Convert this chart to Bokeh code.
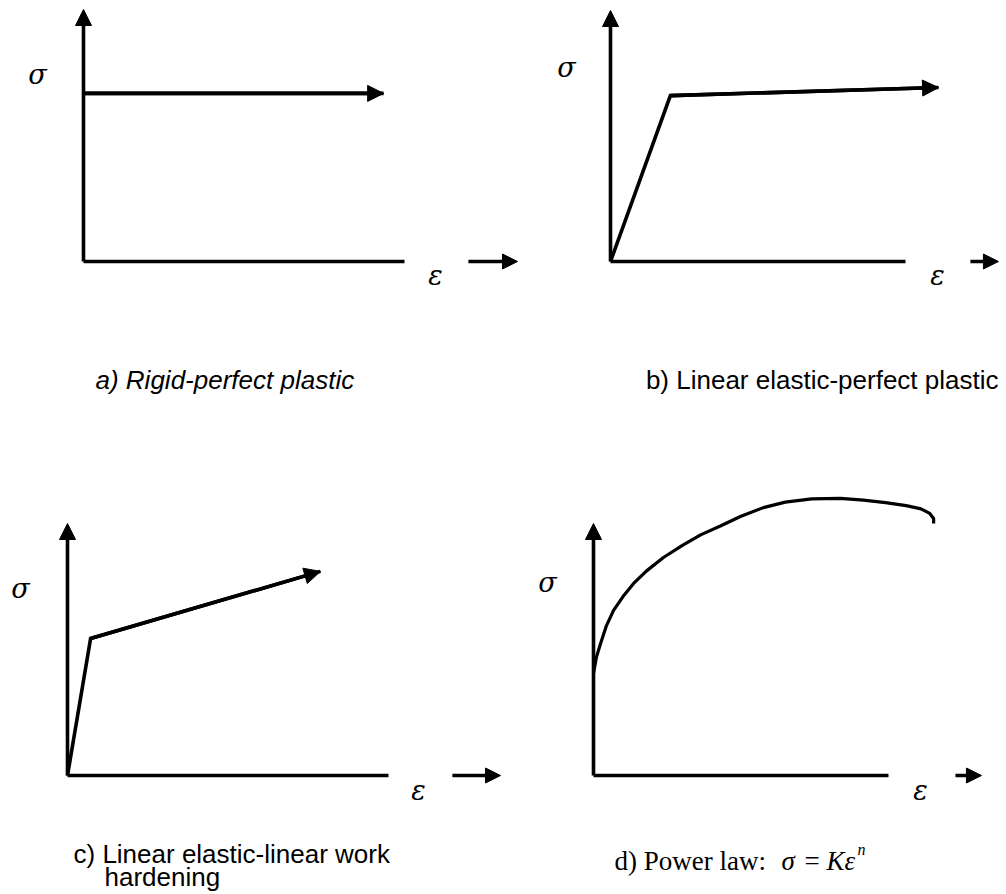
from bokeh.plotting import figure
from bokeh.layouts import gridplot
from bokeh.models import Range1d, Arrow, NormalHead
from bokeh.core.properties import value
from bokeh.embed import file_html
from bokeh.resources import INLINE

# ---- stress-strain models (normalised: axis length = 1) ----
# a) rigid-perfect plastic
rigid_strain = [0.0, 0.935]
rigid_stress = [0.667, 0.667]
# b) linear elastic-perfect plastic
elpp_strain = [0.0, 0.203, 1.112]
elpp_stress = [0.0, 0.661, 0.693]
# c) linear elastic-linear work hardening
ellh_strain = [0.0, 0.072, 0.788]
ellh_stress = [0.0, 0.544, 0.810]
# d) power law
power_strain = [0.0, 0.010, 0.024, 0.044, 0.068, 0.100, 0.136, 0.180, 0.237,
                0.300, 0.363, 0.430, 0.498, 0.576, 0.650, 0.740, 0.837, 0.915,
                0.990, 1.060, 1.110, 1.140, 1.153, 1.153]
power_stress = [0.405, 0.470, 0.524, 0.595, 0.655, 0.710, 0.762, 0.812, 0.865,
                0.912, 0.955, 0.990, 1.028, 1.063, 1.085, 1.098, 1.100, 1.093,
                1.083, 1.071, 1.058, 1.040, 1.020, 1.000]

captions = ["a) Rigid-perfect plastic",
            "b) Linear elastic-perfect plastic",
            "c) Linear elastic-linear work",
            "hardening",
            "d) Power law:"]

INK = "black"
LW = 3.6
SERIF = value("Liberation Serif")
SYMBOL = value("DejaVu Serif")
SANS = value("Liberation Sans")


def make_panel(left, top, w, h, origin, unit):
    ox, oy = origin
    ux, uy = unit
    p = figure(width=w, height=h,
               x_range=Range1d((left - ox) / ux, (left + w - ox) / ux),
               y_range=Range1d((oy - top - h) / uy, (oy - top) / uy),
               x_axis_location=None, y_axis_location=None,
               output_backend="svg", toolbar_location=None, min_border=0)
    p.grid.visible = False
    p.outline_line_color = None
    p.background_fill_color = "white"
    p.border_fill_color = "white"

    def at(px, py):
        return (px - ox) / ux, (oy - py) / uy

    # stress axis with arrow head, strain axis plain
    p.add_layout(Arrow(x_start=0, y_start=0, x_end=0, y_end=1,
                       line_width=LW, line_color=INK,
                       end=NormalHead(size=16, fill_color=INK, line_color=INK, line_width=1)))
    p.line([0, 1], [0, 0], line_width=LW, line_color=INK)
    return p, at


def head_arrow(p, xs, ys):
    p.add_layout(Arrow(x_start=xs[-2], y_start=ys[-2], x_end=xs[-1], y_end=ys[-1],
                       line_width=LW, line_color=INK,
                       end=NormalHead(size=16, fill_color=INK, line_color=INK, line_width=1)))


def strain_arrow(p, x0, x1):
    p.add_layout(Arrow(x_start=x0, y_start=0, x_end=x1, y_end=0,
                       line_width=LW, line_color=INK,
                       end=NormalHead(size=15, fill_color=INK, line_color=INK, line_width=1)))


def symbol(p, at, ch, px, py, size="27px"):
    x, y = at(px, py)
    p.text([x], [y], text=[ch], text_font=SYMBOL, text_font_style="italic",
           text_font_size=size, text_align="center", text_baseline="alphabetic",
           text_color=INK)


def caption(p, at, txt, px, py, align="left", style="normal", font=SANS, size="27px"):
    x, y = at(px, py)
    p.text([x], [y], text=[txt], text_font=font, text_font_style=style,
           text_font_size=size, text_align=align, text_baseline="alphabetic",
           text_color=INK)


# a)
pa, at_a = make_panel(0, 0, 530, 447, (83, 261), (321, 252))
pa.line(rigid_strain, rigid_stress, line_width=LW, line_color=INK)
head_arrow(pa, rigid_strain, rigid_stress)
strain_arrow(pa, 1.199, 1.352)
symbol(pa, at_a, "σ", 37, 74)
symbol(pa, at_a, "ε", 435, 275)
caption(pa, at_a, captions[0], 95, 379, style="italic", size="26px")

# b)
pb, at_b = make_panel(530, 0, 476, 447, (610, 261), (295, 251))
pb.line(elpp_strain, elpp_stress, line_width=LW, line_color=INK, line_join="miter")
head_arrow(pb, elpp_strain, elpp_stress)
strain_arrow(pb, 1.220, 1.315)
symbol(pb, at_b, "σ", 566, 67)
symbol(pb, at_b, "ε", 937, 275)
caption(pb, at_b, captions[1], 998, 379, align="right", size="26px")

# c)
pc, at_c = make_panel(0, 447, 530, 447, (67, 775), (321, 252))
pc.line(ellh_strain, ellh_stress, line_width=LW, line_color=INK, line_join="miter")
head_arrow(pc, ellh_strain, ellh_stress)
strain_arrow(pc, 1.199, 1.349)
symbol(pc, at_c, "σ", 20, 588)
symbol(pc, at_c, "ε", 418, 790)
caption(pc, at_c, captions[2], 73, 853, size="26px")
caption(pc, at_c, captions[3], 104, 876, size="26px")

# d)
pd, at_d = make_panel(530, 447, 476, 447, (593, 775), (295, 252))
pd.line(power_strain, power_stress, line_width=3.2, line_color=INK)
strain_arrow(pd, 1.227, 1.315)
symbol(pd, at_d, "σ", 547, 582)
symbol(pd, at_d, "ε", 920, 790)
caption(pd, at_d, captions[4], 614, 860, font=SERIF)
caption(pd, at_d, "σ", 781, 860, font=SERIF, style="italic")
caption(pd, at_d, "=", 804, 860, font=SERIF)
caption(pd, at_d, "Kε", 826, 860, font=SERIF, style="italic")
caption(pd, at_d, "n", 857, 849, font=SERIF, style="italic", size="16px")

layout = gridplot([[pa, pb], [pc, pd]], toolbar_location=None)

with open("out.html", "w") as f:
    f.write(file_html(layout, INLINE))
